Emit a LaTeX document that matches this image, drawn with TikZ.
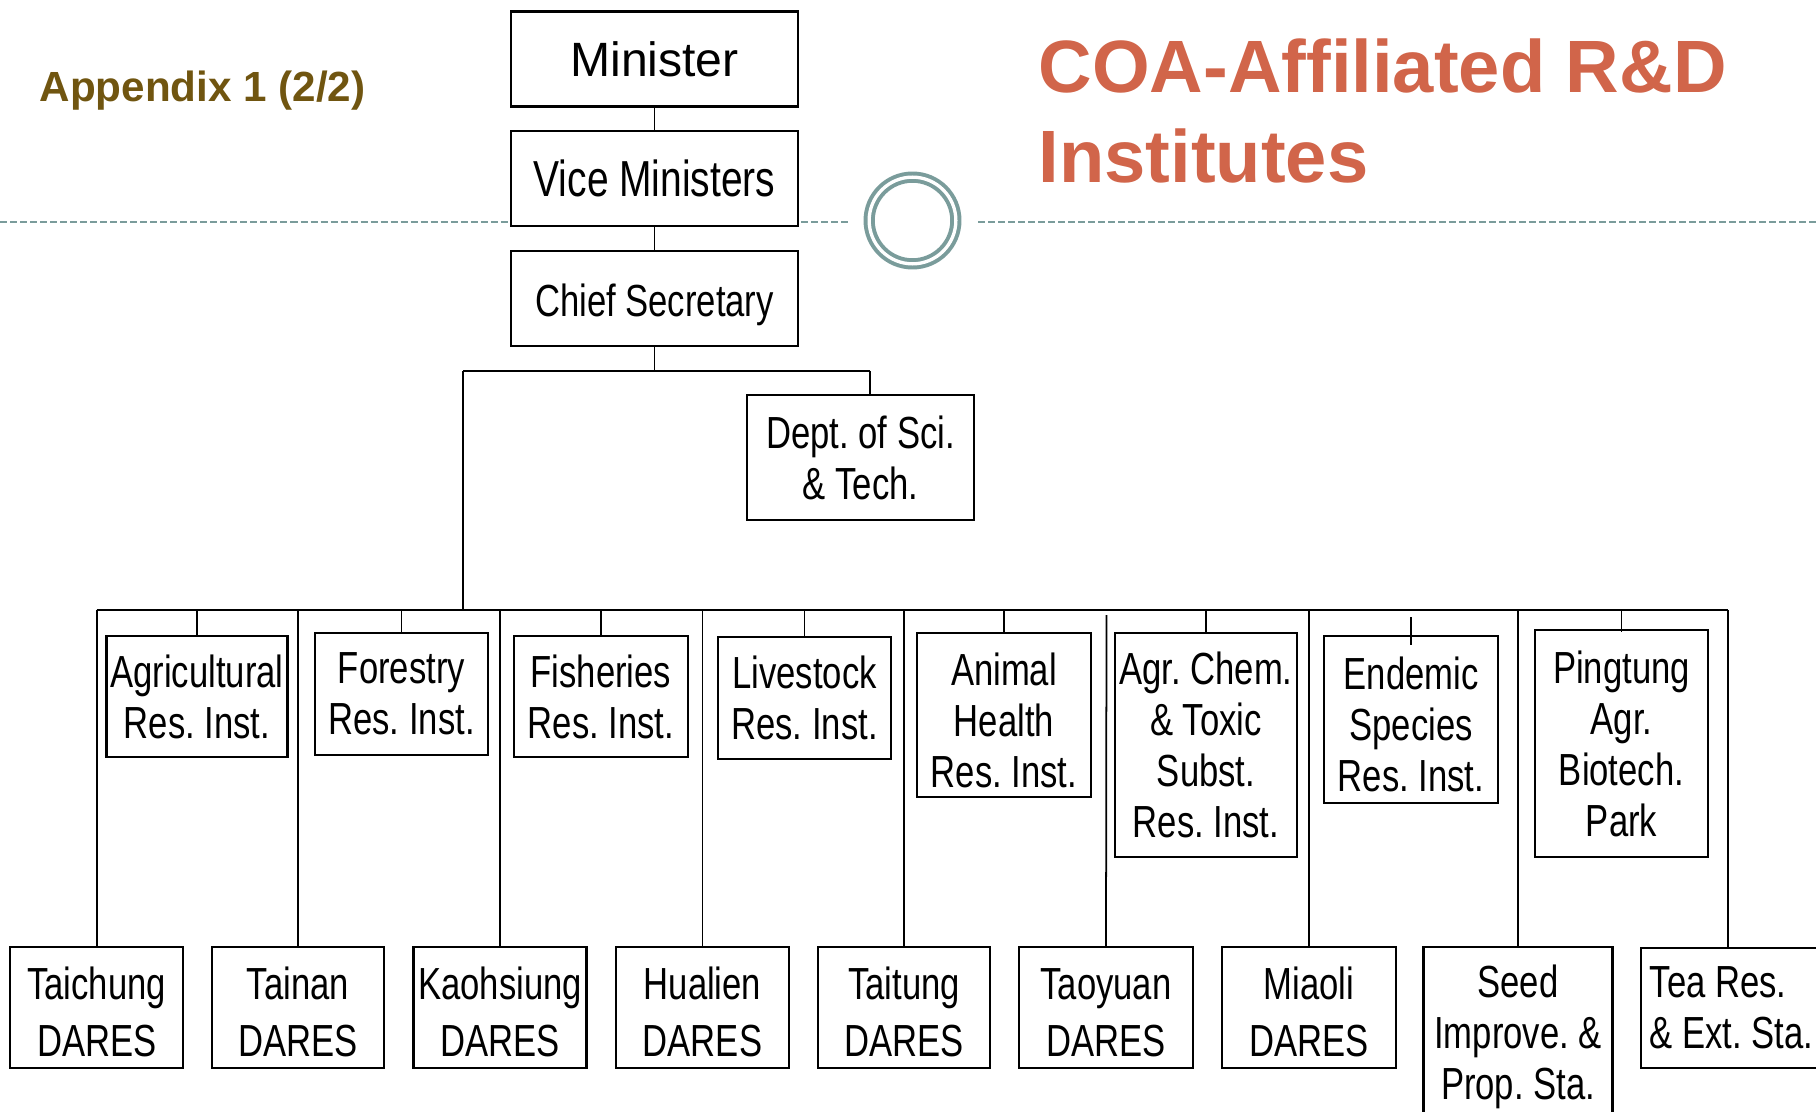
\documentclass[tikz,border=0pt]{standalone}
\usepackage{fontspec}
\setmainfont{Liberation Sans}
\newfontfamily\narrowfont[FakeStretch=0.77]{Liberation Sans}
\usetikzlibrary{positioning,calc}
\definecolor{coaorange}{RGB}{209,101,74}
\definecolor{appxbrown}{RGB}{112,85,16}
\definecolor{rulegray}{RGB}{122,156,155}
\frenchspacing
\newcommand{\topstrut}{\rule{0pt}{11.8pt}}

\begin{document}
\begin{tikzpicture}[x=1cm,y=-1cm,
unit/.style={draw=black,fill=white,line width=0.7pt,inner sep=0pt,align=center,
  font=\narrowfont\fontsize{12.8}{14.5}\selectfont},
office/.style={unit,minimum width=2.87cm,minimum height=0.95cm},
dares/.style={unit,minimum width=1.73cm,minimum height=1.21cm,
  font=\narrowfont\fontsize{12.8}{16.4}\selectfont},
link/.style={line width=0.5pt}]
\clip (0,0) rectangle (18.16,11.12);

% header rule and ring
\draw[rulegray,line width=0.6pt,dash pattern=on 2pt off 0.85pt]
(0,2.22) -- (8.48,2.22) (9.78,2.22) -- (18.16,2.22);
\draw[rulegray,line width=1.13pt,double=white,double distance=0.94pt]
(9.125,2.205) circle (0.4335cm);

\node[anchor=base west,inner sep=0pt,text=appxbrown,font=\bfseries\fontsize{12}{14}\selectfont]
(appendix) at (0.39,1.02) {Appendix 1 (2/2)};
\node[anchor=north west,inner sep=0pt,align=left,text=coaorange,font=\bfseries\fontsize{21.1}{25.6}\selectfont]
(title) at (10.38,0.38) {COA-Affiliated R\&D\\Institutes};

% top of the chart
\node[office,font=\fontsize{13.7}{16}\selectfont] (minister) at (6.545,0.59) {Minister};
\node[office,font=\narrowfont\fontsize{14.4}{16}\selectfont] (vice) at (6.545,1.785) {Vice Ministers};
\node[office,text height=13pt,text depth=2.7pt] (chief) at (6.545,2.985) {Chief Secretary};
\node[unit,minimum width=2.27cm,minimum height=1.25cm] (dept) at (8.605,4.575) {Dept. of Sci.\\\& Tech.};

% research institutes
\node[unit,minimum width=1.81cm,minimum height=1.21cm] (agri) at (1.97,6.965) {Agricultural\\Res. Inst.};
\node[unit,minimum width=1.73cm,minimum height=1.215cm] (forest) at (4.015,6.94) {Forestry\\Res. Inst.};
\node[unit,minimum width=1.74cm,minimum height=1.21cm] (fish) at (6.01,6.965) {Fisheries\\Res. Inst.};
\node[unit,minimum width=1.73cm,minimum height=1.22cm] (stock) at (8.045,6.98) {Livestock\\Res. Inst.};
\node[unit,minimum width=1.74cm,minimum height=1.635cm] (animal) at (10.04,7.15) {\rule{0pt}{12.5pt}Animal\\Health\\Res. Inst.};
\node[unit,minimum width=1.82cm,minimum height=2.235cm] (chem) at (12.06,7.45) {Agr. Chem.\\\& Toxic\\Subst.\\Res. Inst.};
\node[unit,minimum width=1.74cm,minimum height=1.67cm] (endemic) at (14.11,7.195) {\rule{0pt}{12pt}Endemic\\Species\\Res. Inst.};
\node[unit,minimum width=1.73cm,minimum height=2.27cm] (pingtung) at (16.215,7.435) {Pingtung\\Agr.\\Biotech.\\Park};

% district stations
\node[dares] (taichung) at (0.967,10.075) {\topstrut Taichung\\DARES};
\node[dares,minimum width=1.72cm] (tainan) at (2.98,10.075) {\topstrut Tainan\\DARES};
\node[dares] (kaohsiung) at (5.00,10.075) {\topstrut Kaohsiung\\DARES};
\node[dares] (hualien) at (7.025,10.075) {\topstrut Hualien\\DARES};
\node[dares,minimum width=1.72cm] (taitung) at (9.04,10.075) {\topstrut Taitung\\DARES};
\node[dares,minimum width=1.74cm] (taoyuan) at (11.06,10.075) {\topstrut Taoyuan\\DARES};
\node[dares,minimum width=1.74cm] (miaoli) at (13.09,10.075) {\topstrut Miaoli\\DARES};
\node[unit,minimum width=1.89cm,minimum height=1.79cm] (seed) at (15.18,10.365) {Seed\\Improve. \&\\Prop. Sta.};
\node[unit,align=left,minimum width=1.81cm,minimum height=1.20cm] (tea) at (17.315,10.08) {Tea Res.\\\& Ext. Sta.};

\coordinate (forkL) at (4.63,3.71);
\coordinate (forkR) at (8.70,3.71);
\coordinate (busL) at (0.967,6.10);
\coordinate (busR) at (17.28,6.10);

\path[link]
(minister) edge (vice)
(vice) edge (chief)
(chief) edge (chief.south |- forkL)
(forkL) edge (forkR)
(forkR) edge (forkR |- dept.north)
(forkL) edge (forkL |- busL)
(busL) edge (busR)
;
% stubs down to the institutes
\path[link]
(agri.north |- busL) edge (agri.north)
(forest.north |- busL) edge (forest.north)
(fish.north |- busL) edge (fish.north)
(stock.north |- busL) edge (stock.north)
(animal.north |- busL) edge (animal.north)
(chem.north |- busL) edge (chem.north)
(14.11,6.17) edge ([yshift=-0.1cm]endemic.north)
(pingtung.north |- busL) edge ([yshift=-0.03cm]pingtung.north)
;
% drops to the stations
\path[link]
(taichung.north |- busL) edge (taichung.north)
(tainan.north |- busL) edge (tainan.north)
(kaohsiung.north |- busL) edge (kaohsiung.north)
(hualien.north |- busL) edge (hualien.north)
(taitung.north |- busL) edge (taitung.north)
(11.065,6.15) edge (taoyuan.north)
(miaoli.north |- busL) edge (miaoli.north)
(seed.north |- busL) edge (seed.north)
(busR) edge (busR |- tea.north)
;
\end{tikzpicture}
\end{document}
